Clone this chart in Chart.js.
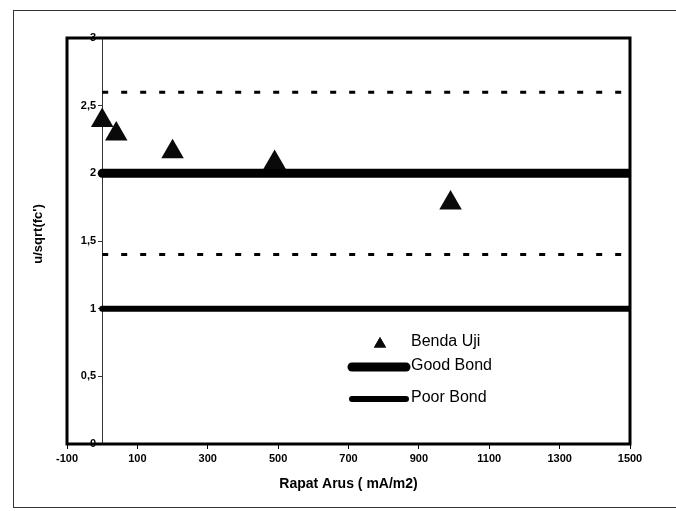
<!DOCTYPE html>
<html>
<head>
<meta charset="utf-8">
<script src="https://cdn.jsdelivr.net/npm/chart.js@4/dist/chart.umd.min.js"></script>
<style>
	html, body { margin: 0; padding: 0; background: #ffffff; }
	#wrap { position: relative; width: 676px; height: 511px; overflow: hidden; }
	#frame {
		position: absolute; left: 13px; top: 10px; width: 720px; height: 496px;
		border-left: 1.5px solid #333; border-top: 1.5px solid #333; border-bottom: 1.5px solid #333;
	}
	canvas { position: absolute; left: 0; top: 0; }
</style>
</head>
<body>
<div id="wrap">
	<div id="frame"></div>
	<canvas id="chart" width="676" height="511"></canvas>
</div>
<script>
	'use strict';

	// specimen measurements (Benda Uji)
	var currentDensity = [0, 40, 200, 490, 990];
	var bondRatio = [2.39, 2.29, 2.16, 2.08, 1.78];

	// reference lines, drawn from x = 0 to x = 1500
	var refX = [0, 1500];
	var goodBond = [2, 2];
	var poorBond = [1, 1];
	var upperBand = [2.6, 2.6];
	var lowerBand = [1.4, 1.4];

	var xTicks = [-100, 100, 300, 500, 700, 900, 1100, 1300, 1500];
	var yTicks = [0, 0.5, 1, 1.5, 2, 2.5, 3];

	var FONT = "'Liberation Sans', Arial, sans-serif";

	function points(xs, ys) {
		return xs.map(function (x, i) {
			return { x: x, y: ys[i] };
		});
	}

	function refLine(label, ys, width, dash) {
		return {
			label: label,
			data: points(refX, ys),
			showLine: true,
			borderColor: '#000000',
			borderWidth: width,
			borderDash: dash || [],
			borderCapStyle: dash ? 'butt' : 'round',
			pointRadius: 0,
			pointHoverRadius: 0,
			inLegend: !dash,
		};
	}

	var frameAndTitle = {
		id: 'frameAndTitle',
		afterDraw: function (chart) {
			var ctx = chart.ctx;
			var a = chart.chartArea;
			ctx.save();
			ctx.strokeStyle = '#000000';
			ctx.lineWidth = 3;
			ctx.strokeRect(a.left, a.top, a.right - a.left, a.bottom - a.top);

			ctx.fillStyle = '#000000';
			ctx.font = 'bold 13px ' + FONT;
			ctx.textAlign = 'center';
			ctx.textBaseline = 'middle';
			ctx.translate(38, 234);
			ctx.rotate(-Math.PI / 2);
			ctx.fillText("u/sqrt(fc')", 0, 0);
			ctx.restore();
		},
	};

	var boxLegend = {
		id: 'boxLegend',
		afterDraw: function (chart) {
			var ctx = chart.ctx;
			var rows = [343, 367, 399];
			var n = 0;
			ctx.save();
			ctx.font = '16px ' + FONT;
			ctx.fillStyle = '#000000';
			ctx.textBaseline = 'middle';
			chart.data.datasets.forEach(function (ds) {
				if (ds.inLegend === false) {
					return;
				}
				var y = rows[n++];
				if (ds.showLine) {
					ctx.strokeStyle = ds.borderColor;
					ctx.lineWidth = ds.borderWidth;
					ctx.lineCap = 'round';
					ctx.beginPath();
					ctx.moveTo(352, y);
					ctx.lineTo(406, y);
					ctx.stroke();
				} else {
					Chart.helpers.drawPoint(ctx, {
						pointStyle: ds.pointStyle,
						radius: 7,
						borderWidth: 0,
					}, 380, y + 1);
					ctx.fillStyle = ds.backgroundColor;
					ctx.fill();
				}
				ctx.fillStyle = '#000000';
				ctx.fillText(ds.label, 411, y - 1);
			});
			ctx.restore();
		},
	};

	new Chart(document.getElementById('chart'), {
		type: 'scatter',
		data: {
			datasets: [
				{
					label: 'Benda Uji',
					data: points(currentDensity, bondRatio),
					pointStyle: 'triangle',
					pointRadius: 13,
					pointHoverRadius: 13,
					backgroundColor: '#0a0a0a',
					borderColor: '#0a0a0a',
					borderWidth: 0,
				},
				refLine('Good Bond', goodBond, 9),
				refLine('Poor Bond', poorBond, 6),
				refLine('', upperBand, 3, [6, 13]),
				refLine('', lowerBand, 3, [6, 13]),
			],
		},
		options: {
			responsive: false,
			animation: false,
			events: [],
			layout: {
				padding: { left: 67, right: 46, top: 38, bottom: 18 },
			},
			plugins: {
				legend: { display: false },
				tooltip: { enabled: false },
			},
			scales: {
				x: {
					type: 'linear',
					min: -100,
					max: 1500,
					afterBuildTicks: function (scale) {
						scale.ticks = xTicks.map(function (v) {
							return { value: v };
						});
					},
					border: { display: false },
					grid: {
						drawOnChartArea: false,
						drawTicks: true,
						tickLength: 5,
						color: '#000000',
					},
					ticks: {
						color: '#000000',
						padding: 3,
						maxRotation: 0,
						autoSkip: false,
						font: { family: FONT, size: 11, weight: 'bold' },
						callback: function (value) {
							return String(value);
						},
					},
					title: {
						display: true,
						text: 'Rapat Arus ( mA/m2)',
						color: '#000000',
						padding: { top: 8, bottom: 0 },
						font: { family: FONT, size: 14, weight: 'bold' },
					},
				},
				y: {
					type: 'linear',
					position: { x: 0 },
					min: 0,
					max: 3,
					afterBuildTicks: function (scale) {
						scale.ticks = yTicks.map(function (v) {
							return { value: v };
						});
					},
					border: { display: true, color: '#333333', width: 1 },
					grid: {
						drawOnChartArea: false,
						drawTicks: true,
						tickLength: 4,
						color: '#333333',
					},
					ticks: {
						color: '#000000',
						autoSkip: false,
						font: { family: FONT, size: 11, weight: 'bold' },
						// the axis sits at x = 0, labels are right-aligned on it, so pad with spaces
						callback: function (value) {
							return String(value).replace('.', ',') + '  ';
						},
					},
				},
			},
		},
		plugins: [frameAndTitle, boxLegend],
	});
</script>
</body>
</html>
